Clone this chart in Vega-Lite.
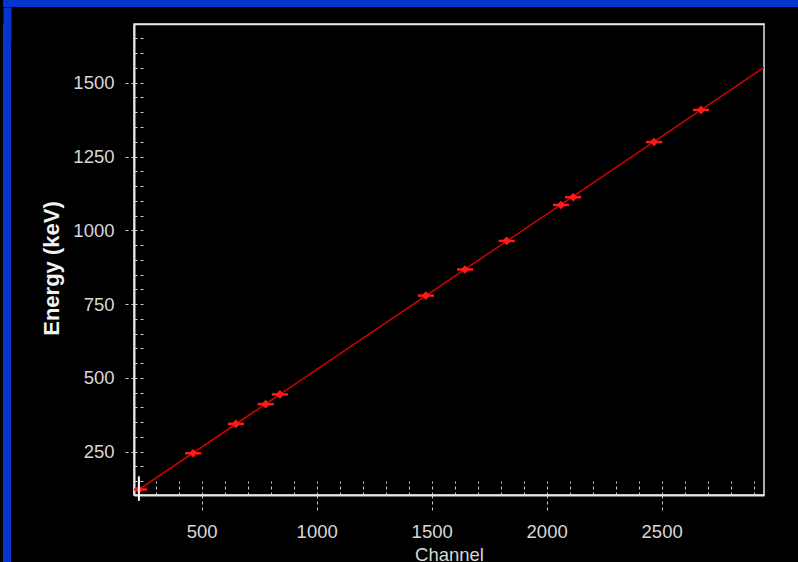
{
  "$schema": "https://vega.github.io/schema/vega-lite/v6.json",
  "background": "#000000",
  "padding": 0,
  "datasets": {
    "peaks": [
      {"channel": 227, "lo": 197, "hi": 262, "energy": 121.8},
      {"channel": 463, "lo": 428, "hi": 498, "energy": 244.7},
      {"channel": 649, "lo": 614, "hi": 684, "energy": 344.3},
      {"channel": 778, "lo": 743, "hi": 813, "energy": 411.1},
      {"channel": 840, "lo": 805, "hi": 875, "energy": 444.0},
      {"channel": 1475, "lo": 1440, "hi": 1510, "energy": 778.9},
      {"channel": 1645, "lo": 1610, "hi": 1680, "energy": 867.4},
      {"channel": 1826, "lo": 1791, "hi": 1861, "energy": 964.1},
      {"channel": 2062, "lo": 2027, "hi": 2097, "energy": 1085.8},
      {"channel": 2115, "lo": 2080, "hi": 2150, "energy": 1112.1},
      {"channel": 2467, "lo": 2432, "hi": 2502, "energy": 1299.1},
      {"channel": 2671, "lo": 2636, "hi": 2706, "energy": 1408.0}
    ],
    "fit": [
      {"channel": 220, "energy": 118},
      {"channel": 2945, "energy": 1552}
    ],
    "cursor": [
      {"channel": 227, "energy": 125}
    ],
    "stripaxis": [
      {"v": 0}
    ],
    "empty": []
  },
  "spacing": 0,
  "vconcat": [
    {
      "width": 798,
      "height": 7,
      "data": {"name": "empty"},
      "mark": "point",
      "view": {"fill": "#0733d1", "stroke": null}
    },
    {
      "spacing": 29,
      "hconcat": [
        {
          "width": 8,
          "height": 560,
          "data": {"name": "stripaxis"},
          "mark": {"type": "point", "opacity": 0},
          "encoding": {
            "x": {
              "field": "v", "type": "quantitative",
              "scale": {"domain": [0, 1], "nice": false, "zero": false},
              "axis": {
                "orient": "top", "title": null, "labels": false, "ticks": false, "grid": false,
                "domain": true, "domainColor": "#0733d1", "domainWidth": 34, "domainCap": "butt",
                "minExtent": 16, "maxExtent": 16
              }
            }
          },
          "view": {"fill": "#0733d1", "stroke": null}
        },
        {
          "width": 630,
          "height": 471,
          "view": {"stroke": "#e6e6e6", "strokeWidth": 1.5, "fill": "#000000"},
          "resolve": {"axis": {"x": "independent", "y": "independent"}},
          "layer": [
            {
              "data": {"name": "fit"},
              "mark": {"type": "line", "color": "#d80000", "strokeWidth": 1.5, "clip": true},
              "encoding": {
                "x": {
                  "field": "channel", "type": "quantitative",
                  "scale": {"domain": [205.7, 2945], "nice": false, "zero": false},
                  "axis": {
                    "orient": "bottom",
                    "values": [500, 1000, 1500, 2000, 2500],
                    "format": "d",
                    "title": "Channel",
                    "grid": false,
                    "tickSize": 18, "tickDash": [3, 3], "tickColor": "#cfcfcf", "tickWidth": 1,
                    "domainColor": "#e6e6e6", "domainWidth": 2,
                    "labelFont": "Liberation Sans", "labelFontSize": 18.5, "labelColor": "#d8d8d8", "labelPadding": 9,
                    "labelFlush": false, "labelOverlap": false,
                    "titleFont": "Liberation Sans", "titleFontSize": 18.5, "titleFontWeight": "normal", "titleColor": "#d8d8d8", "titlePadding": 5
                  }
                },
                "y": {
                  "field": "energy", "type": "quantitative",
                  "scale": {"domain": [103.3, 1699], "nice": false, "zero": false},
                  "axis": {
                    "orient": "left",
                    "values": [250, 500, 750, 1000, 1250, 1500],
                    "format": "d",
                    "title": "Energy (keV)",
                    "grid": false,
                    "tickSize": 9, "tickDash": [3, 3], "tickColor": "#cfcfcf", "tickWidth": 1,
                    "domainColor": "#e6e6e6", "domainWidth": 2,
                    "labelFont": "Liberation Sans", "labelFontSize": 18.5, "labelColor": "#d8d8d8", "labelPadding": 11,
                    "labelFlush": false, "labelOverlap": false,
                    "titleFont": "Liberation Sans", "titleFontSize": 22, "titleFontWeight": "bold",
                    "titleColor": "#f2f2f2", "titlePadding": 9, "titleY": 244
                  }
                }
              }
            },
            {
              "data": {"name": "peaks"},
              "mark": {"type": "rule", "color": "#ff1a1a", "strokeWidth": 2.5, "clip": true},
              "encoding": {
                "x": {"field": "lo", "type": "quantitative", "scale": {"domain": [205.7, 2945], "nice": false, "zero": false}, "axis": null},
                "x2": {"field": "hi"},
                "y": {"field": "energy", "type": "quantitative", "scale": {"domain": [103.3, 1699], "nice": false, "zero": false}, "axis": null}
              }
            },
            {
              "data": {"name": "peaks"},
              "mark": {"type": "point", "shape": "diamond", "filled": true, "color": "#ff1a1a", "opacity": 1, "size": 75, "clip": true},
              "encoding": {
                "x": {"field": "channel", "type": "quantitative", "scale": {"domain": [205.7, 2945], "nice": false, "zero": false}, "axis": null},
                "y": {"field": "energy", "type": "quantitative", "scale": {"domain": [103.3, 1699], "nice": false, "zero": false}, "axis": null}
              }
            },
            {
              "data": {"name": "cursor"},
              "mark": {"type": "point", "shape": "M0,-1L0,1", "filled": false, "color": "#ffffff", "strokeWidth": 2, "opacity": 1, "size": 600},
              "encoding": {
                "x": {"field": "channel", "type": "quantitative", "scale": {"domain": [205.7, 2945], "nice": false, "zero": false}, "axis": null},
                "y": {"field": "energy", "type": "quantitative", "scale": {"domain": [103.3, 1699], "nice": false, "zero": false}, "axis": null}
              }
            },
            {
              "data": {"name": "peaks"},
              "mark": {"type": "point", "opacity": 0},
              "encoding": {
                "x": {
                  "field": "channel", "type": "quantitative",
                  "scale": {"domain": [205.7, 2945], "nice": false, "zero": false},
                  "axis": {
                    "orient": "bottom",
                    "values": [300, 400, 500, 600, 700, 800, 900, 1000, 1100, 1200, 1300, 1400, 1500, 1600, 1700, 1800, 1900, 2000, 2100, 2200, 2300, 2400, 2500, 2600, 2700, 2800, 2900],
                    "title": null, "labels": false, "domain": false, "grid": false,
                    "tickSize": -14, "tickDash": [3, 3], "tickColor": "#cfcfcf", "tickWidth": 1
                  }
                },
                "y": {
                  "field": "energy", "type": "quantitative",
                  "scale": {"domain": [103.3, 1699], "nice": false, "zero": false},
                  "axis": {
                    "orient": "left",
                    "values": [150, 200, 250, 300, 350, 400, 450, 500, 550, 600, 650, 700, 750, 800, 850, 900, 950, 1000, 1050, 1100, 1150, 1200, 1250, 1300, 1350, 1400, 1450, 1500, 1550, 1600, 1650],
                    "title": null, "labels": false, "domain": false, "grid": false,
                    "tickSize": -9, "tickDash": [3, 3], "tickColor": "#cfcfcf", "tickWidth": 1
                  }
                }
              }
            },
            {
              "data": {"name": "peaks"},
              "mark": {"type": "point", "opacity": 0},
              "encoding": {
                "x": {
                  "field": "channel", "type": "quantitative",
                  "scale": {"domain": [205.7, 2945], "nice": false, "zero": false},
                  "axis": {
                    "orient": "top", "title": null, "labels": false, "ticks": false, "grid": false,
                    "domain": true, "domainColor": "#e6e6e6", "domainWidth": 1.5,
                    "minExtent": 16, "maxExtent": 16
                  }
                },
                "y": {
                  "field": "energy", "type": "quantitative",
                  "scale": {"domain": [103.3, 1699], "nice": false, "zero": false},
                  "axis": null
                }
              }
            }
          ]
        }
      ]
    }
  ]
}
